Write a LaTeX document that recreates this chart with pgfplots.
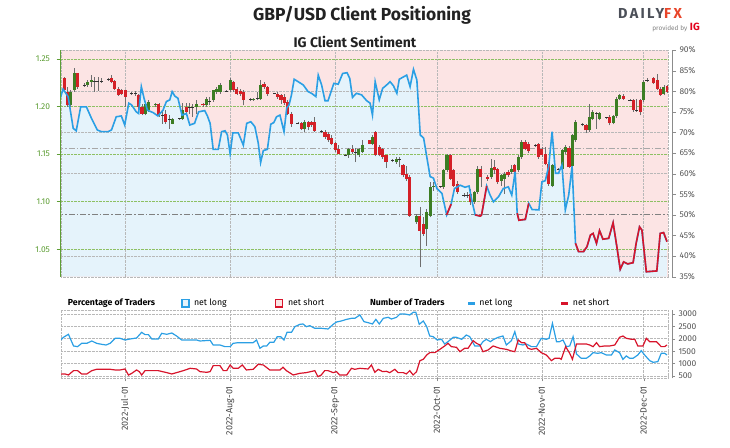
\documentclass[border=0pt]{standalone}
\usepackage{fontspec}
\setmainfont{Fira Sans}
\usepackage{pgfplots}
\usepackage{pgfplotstable}
\pgfplotsset{compat=1.18}

\definecolor{bgpink}{HTML}{FCE4E4}
\definecolor{bgblue}{HTML}{E5F3FB}
\definecolor{lineblue}{HTML}{2B9FE4}
\definecolor{linered}{HTML}{D7142B}
\definecolor{cgreen}{HTML}{3C7D23}
\definecolor{cred}{HTML}{D42027}
\definecolor{cwick}{HTML}{6E6E6E}
\definecolor{cdoji}{HTML}{333333}
\definecolor{gridgreen}{HTML}{8DC063}
\definecolor{gridgray}{HTML}{B8B8B8}
\definecolor{dashgray}{HTML}{808080}
\definecolor{dashlight}{HTML}{A8A8A8}
\definecolor{axgreen}{HTML}{5E9E35}
\definecolor{axgray}{HTML}{8C8C8C}
\definecolor{textgray}{HTML}{555555}
\definecolor{labelgray}{HTML}{444444}
\definecolor{titlegray}{HTML}{222222}
\definecolor{logogray}{HTML}{4B4F58}
\definecolor{logored}{HTML}{E8452A}
\definecolor{igred}{HTML}{E3001B}

% x = days from 2022-07-01
\pgfplotstableread{
x pct
-19.25 77.9
-18.3 80.5
-16.8 78.7
-15.3 71.0
-14.4 70.4
-13.1 76.2
-11.4 76.2
-9.9 73.4
-8.2 70.6
-7.0 70.2
-5.0 70.2
-4.0 70.6
-2.6 73.8
-1.1 74.0
-0.1 71.8
1.1 77.1
1.9 76.7
3.3 75.0
4.0 74.6
4.8 81.1
5.6 78.3
6.6 75.4
8.3 74.8
9.7 74.0
11.2 75.4
12.2 77.5
13.2 77.9
13.9 79.9
14.7 78.8
15.6 78.3
16.8 74.2
18.1 74.6
19.1 71.8
20.5 72.2
21.7 75.0
23.5 75.3
24.3 74.0
25.1 72.2
26.0 65.9
27.5 65.9
28.5 70.2
29.5 70.4
30.2 69.4
31.0 64.8
31.8 69.9
33.4 69.9
34.9 66.9
35.9 72.2
37.1 72.6
38.3 71.4
39.3 67.4
40.0 62.7
40.8 65.6
42.0 65.9
43.0 72.0
43.9 72.4
44.7 73.8
45.7 74.2
46.9 70.2
47.7 75.9
48.4 76.7
49.1 79.1
49.9 82.9
51.1 82.3
52.6 81.5
54.0 79.9
55.0 79.5
56.3 78.7
57.0 83.9
58.0 81.5
59.0 77.7
59.9 77.7
61.6 81.9
62.9 81.7
64.2 84.3
65.5 84.5
66.3 83.1
67.1 78.5
68.3 79.5
69.8 79.1
71.3 77.7
72.3 77.1
73.0 74.2
73.8 82.3
75.0 77.9
76.0 80.7
76.9 81.3
78.2 82.3
79.2 81.3
80.2 79.5
80.9 82.9
82.2 83.5
83.1 83.9
84.1 81.1
85.1 85.3
86.1 82.7
87.1 69.4
88.1 68.6
90.0 59.3
91.0 58.9
92.0 56.4
93.5 55.2
94.9 50.0
96.2 52.6
97.2 56.4
98.9 57.2
100.3 56.7
101.5 57.0
102.3 53.6
103.3 50.0
104.8 49.7
105.2 50.0
106.7 57.0
107.7 54.8
108.7 53.2
110.2 54.4
111.6 56.4
113.1 56.8
114.1 54.8
115.1 60.5
115.7 50.4
116.2 48.7
118.1 48.9
119.1 52.8
120.1 51.3
122.1 51.2
123.0 58.0
124.0 58.3
125.0 61.8
126.0 70.2
127.0 60.1
127.9 60.1
128.9 62.1
129.9 51.2
130.9 54.8
131.9 61.8
132.9 43.1
133.8 41.1
135.3 41.1
136.3 42.3
137.3 45.1
138.1 45.5
139.1 43.1
140.0 46.2
141.0 44.1
142.7 44.3
144.0 48.1
145.1 42.3
146.1 36.8
147.1 38.6
148.3 38.1
149.9 38.4
150.8 43.1
151.8 47.1
152.5 46.3
153.8 36.2
156.9 36.4
157.9 45.5
158.9 45.7
159.9 43.5
}\sentiment

% candles: x low high body-bottom body-top
\pgfplotstableread{
x lo hi bo bt
-16 1.1997 1.2173 1.2014 1.2155
-15 1.2155 1.2401 1.2173 1.2348
-11 1.2208 1.2278 1.2225 1.2260
-10 1.2208 1.2331 1.2260 1.2278
6 1.1909 1.2049 1.1926 1.2032
7 1.1944 1.2067 1.1962 1.2049
9 1.1997 1.2039 1.2014 1.2032
14 1.1814 1.1884 1.1821 1.1874
17 1.1863 1.2039 1.1874 1.1962
21 1.1926 1.2067 1.1997 1.2032
24 1.1997 1.2102 1.2014 1.2085
26 1.2049 1.2173 1.2067 1.2173
27 1.2137 1.2208 1.2155 1.2190
28 1.2137 1.2243 1.2155 1.2225
31 1.2155 1.2296 1.2173 1.2278
38 1.2060 1.2095 1.2067 1.2085
40 1.2074 1.2278 1.2085 1.2225
53 1.1733 1.1856 1.1768 1.1838
66 1.1462 1.1568 1.1487 1.1557
69 1.1469 1.1568 1.1487 1.1557
70 1.1512 1.1645 1.1522 1.1592
73 1.1592 1.1698 1.1610 1.1680
80 1.1399 1.1469 1.1417 1.1452
86 1.0766 1.0872 1.0784 1.0854
89 1.0538 1.0924 1.0713 1.0889
90 1.0836 1.1206 1.0854 1.1160
91 1.1118 1.1206 1.1153 1.1170
94 1.1135 1.1346 1.1153 1.1329
95 1.1311 1.1505 1.1329 1.1487
103 1.0977 1.1118 1.0995 1.1100
104 1.1083 1.1371 1.1100 1.1346
108 1.1241 1.1452 1.1258 1.1357
111 1.1170 1.1293 1.1223 1.1276
112 1.1083 1.1311 1.1241 1.1293
114 1.1293 1.1381 1.1311 1.1346
116 1.1311 1.1487 1.1329 1.1469
117 1.1452 1.1645 1.1469 1.1628
126 1.1153 1.1399 1.1170 1.1381
129 1.1329 1.1557 1.1346 1.1540
130 1.1505 1.1592 1.1522 1.1575
132 1.1357 1.1715 1.1371 1.1698
133 1.1628 1.1856 1.1645 1.1838
137 1.1733 1.2032 1.1751 1.1891
138 1.1856 1.1962 1.1874 1.1944
140 1.1856 1.1944 1.1874 1.1933
144 1.1814 1.1909 1.1828 1.1898
145 1.1884 1.2102 1.1898 1.2085
146 1.2067 1.2137 1.2085 1.2120
153 1.2049 1.2278 1.2067 1.2260
159 1.2120 1.2225 1.2137 1.2208
}\candlesup

\pgfplotstableread{
x lo hi bo bt
-18 1.2155 1.2313 1.2173 1.2296
-17 1.1997 1.2208 1.2014 1.2155
-14 1.2190 1.2348 1.2208 1.2348
-4 1.2243 1.2331 1.2260 1.2296
-3 1.2173 1.2278 1.2190 1.2271
-2 1.2109 1.2208 1.2120 1.2190
-1 1.2120 1.2180 1.2137 1.2173
0 1.1997 1.2173 1.2102 1.2173
4 1.1962 1.2137 1.1997 1.2120
5 1.1909 1.2032 1.1926 1.1997
10 1.1891 1.2039 1.1909 1.2032
12 1.1821 1.1962 1.1838 1.1926
18 1.1926 1.2039 1.1944 1.1997
23 1.1997 1.2039 1.2014 1.2032
32 1.2155 1.2271 1.2173 1.2260
33 1.2120 1.2208 1.2137 1.2190
34 1.2109 1.2180 1.2137 1.2166
35 1.2014 1.2173 1.2067 1.2155
41 1.2190 1.2260 1.2208 1.2236
42 1.2109 1.2215 1.2137 1.2208
45 1.2085 1.2155 1.2102 1.2137
46 1.2032 1.2137 1.2067 1.2120
47 1.2014 1.2137 1.2039 1.2102
48 1.1909 1.2067 1.1926 1.2049
49 1.1786 1.1944 1.1821 1.1926
52 1.1751 1.1838 1.1768 1.1828
54 1.1751 1.1846 1.1786 1.1838
55 1.1786 1.1846 1.1803 1.1838
56 1.1733 1.1891 1.1740 1.1838
59 1.1663 1.1751 1.1680 1.1733
60 1.1628 1.1733 1.1645 1.1708
61 1.1592 1.1698 1.1610 1.1673
62 1.1522 1.1628 1.1540 1.1617
63 1.1498 1.1592 1.1505 1.1557
67 1.1505 1.1592 1.1522 1.1557
72 1.1603 1.1652 1.1610 1.1645
74 1.1476 1.1744 1.1487 1.1733
75 1.1476 1.1592 1.1487 1.1575
76 1.1452 1.1568 1.1469 1.1557
77 1.1357 1.1487 1.1417 1.1487
82 1.1258 1.1399 1.1276 1.1381
83 1.1223 1.1371 1.1241 1.1293
84 1.0843 1.1276 1.0854 1.1265
87 1.0309 1.0942 1.0696 1.0854
88 1.0643 1.0836 1.0661 1.0766
96 1.1230 1.1505 1.1241 1.1487
97 1.1153 1.1346 1.1170 1.1329
98 1.1083 1.1223 1.1100 1.1188
102 1.0970 1.1135 1.0995 1.1083
105 1.1153 1.1371 1.1258 1.1346
107 1.1223 1.1276 1.1241 1.1258
109 1.1293 1.1434 1.1329 1.1364
110 1.1188 1.1357 1.1206 1.1346
113 1.1258 1.1329 1.1276 1.1311
115 1.1293 1.1392 1.1311 1.1381
118 1.1540 1.1652 1.1557 1.1628
119 1.1512 1.1628 1.1533 1.1610
122 1.1452 1.1617 1.1469 1.1603
123 1.1469 1.1575 1.1487 1.1557
124 1.1381 1.1575 1.1399 1.1505
125 1.1170 1.1417 1.1188 1.1399
131 1.1357 1.1582 1.1364 1.1568
136 1.1722 1.1821 1.1751 1.1803
143 1.1803 1.1909 1.1828 1.1891
147 1.2067 1.2137 1.2085 1.2109
150 1.1944 1.2085 1.1962 1.2067
152 1.1909 1.2085 1.1944 1.2067
156 1.2236 1.2313 1.2243 1.2296
157 1.2173 1.2341 1.2190 1.2278
158 1.2109 1.2208 1.2120 1.2190
160 1.2145 1.2225 1.2155 1.2215
}\candlesdown

\pgfplotstableread{
x lo hi bo bt
-12 1.2208 1.2243 1.2222 1.2228
-9 1.2155 1.2313 1.2268 1.2274
-8 1.2166 1.2313 1.2268 1.2274
-7 1.2250 1.2296 1.2268 1.2274
-5 1.2271 1.2296 1.2282 1.2288
2 1.2120 1.2155 1.2134 1.2140
3 1.2109 1.2166 1.2134 1.2140
11 1.1821 1.1962 1.1906 1.1912
13 1.1768 1.1909 1.1860 1.1866
16 1.1863 1.1884 1.1871 1.1877
19 1.1926 1.2039 1.1994 1.2000
20 1.1891 1.2032 1.1994 1.2000
25 1.2014 1.2102 1.2057 1.2063
30 1.2155 1.2173 1.2163 1.2169
37 1.2060 1.2095 1.2075 1.2081
39 1.2067 1.2155 1.2082 1.2088
44 1.2130 1.2148 1.2134 1.2140
51 1.1814 1.1838 1.1825 1.1831
58 1.1722 1.1751 1.1737 1.1743
65 1.1476 1.1498 1.1484 1.1490
68 1.1417 1.1568 1.1519 1.1525
79 1.1417 1.1448 1.1431 1.1437
81 1.1364 1.1469 1.1438 1.1444
93 1.1146 1.1170 1.1157 1.1163
100 1.1054 1.1090 1.1069 1.1075
101 1.1040 1.1100 1.1062 1.1068
121 1.1575 1.1610 1.1589 1.1595
128 1.1329 1.1357 1.1343 1.1349
135 1.1793 1.1828 1.1811 1.1817
139 1.1768 1.1944 1.1923 1.1929
142 1.1874 1.1891 1.1881 1.1887
149 1.2057 1.2078 1.2064 1.2070
151 1.1944 1.2085 1.1959 1.1965
154 1.2260 1.2296 1.2275 1.2281
}\candlesdoji

\pgfplotstableread{
x n
-19.2 1925
-18.2 2059
-16.7 2180
-15.2 1710
-14.0 1683
-12.8 1817
-11.3 1817
-9.8 1911
-8.4 1817
-6.9 1777
-5.6 1750
-4.4 1817
-2.9 2019
-1.5 2019
0 1952
1.5 1992
3.4 2032
4.9 2261
5.9 2167
6.9 2167
7.9 1992
9.8 1992
10.8 2220
12.3 2180
13.8 2234
15.2 2113
16.7 1952
19.2 1952
21.1 1952
22.1 1911
25.1 1938
26.0 1750
28.0 1750
29.5 1683
31.0 1683
31.9 1817
33.4 1844
35.4 1844
37.8 1844
38.8 1952
39.8 1616
40.8 1710
41.8 1710
42.7 1858
43.9 1858
44.9 2086
45.9 2086
46.9 1952
47.8 2261
49.1 2261
50.1 2489
51.6 2583
52.5 2597
53.5 2489
54.5 2530
56.0 2422
58.0 2422
59.9 2395
61.4 2583
62.4 2677
63.8 2718
65.4 2785
66.8 2825
67.8 2825
69.3 2960
70.5 2691
71.7 2651
73.0 2597
74.0 2785
75.0 2597
76.2 2825
77.6 2866
78.6 2798
80.1 2866
81.1 3000
82.5 3000
84.0 2960
85.0 3067
85.8 3067
86.8 2583
88.0 2718
89.0 2489
89.9 2113
90.9 2086
92.1 1952
93.4 1979
94.3 1790
95.3 1884
96.8 2059
97.8 2059
99.3 1979
100.7 2153
101.7 2086
103.2 1710
104.7 1710
105.6 1884
106.6 1979
107.8 1884
108.8 1979
110.1 2059
111.5 2113
112.5 1750
114.0 1925
115.0 2288
116.0 1790
117.4 1750
118.4 1790
119.9 1683
121.4 1683
122.8 2019
124.3 1979
125.1 2019
126.1 2624
127.3 1884
128.2 1884
129.2 1952
130.2 1683
131.2 1710
132.2 2086
133.2 1387
134.6 1213
136.1 1213
137.1 1307
138.1 1441
139.5 1414
140.5 1441
142.0 1347
143.5 1347
144.5 1548
145.9 1441
146.9 1172
147.9 1307
148.9 1213
149.9 1213
151.3 1347
152.3 1522
153.3 1347
154.8 1118
155.8 1051
157.2 1078
158.2 1414
159.2 1414
159.9 1347
}\longcount

\pgfplotstableread{
x n
-19.2 581
-17.7 581
-16.7 540
-15.2 715
-14.0 715
-12.8 581
-11.3 581
-9.8 715
-8.4 769
-6.9 769
-4.4 769
-2.9 742
-1.5 742
0 782
1.0 540
2.0 608
3.4 742
4.2 675
4.9 540
5.9 715
7.3 715
9.8 715
12.3 635
13.8 581
15.2 635
17.2 715
19.2 809
21.1 782
22.1 675
24.1 648
25.1 675
26.0 917
28.0 917
29.0 715
30.0 715
31.0 944
31.9 809
33.4 809
34.6 944
35.8 742
37.8 769
39.3 971
40.8 944
42.7 742
45.7 742
46.6 850
47.6 715
49.6 540
51.6 608
53.5 635
56.0 715
56.9 473
57.9 540
58.9 715
59.9 715
61.4 635
62.4 675
63.3 540
65.4 540
66.8 809
67.8 769
69.3 809
71.7 782
72.7 944
73.7 648
74.7 769
76.0 675
77.1 688
78.1 635
79.6 769
80.6 635
82.1 635
83.0 581
84.0 715
85.0 540
86.0 675
87.0 1118
88.0 1172
89.0 1347
89.9 1441
91.4 1441
92.9 1575
94.3 1710
95.3 1817
96.3 1683
97.8 1656
98.8 1481
100.2 1616
101.2 1616
102.7 1925
103.7 1817
104.7 1750
105.6 1481
107.1 1548
108.6 1710
110.6 1616
112.5 1575
114.0 1508
115.0 1481
116.0 1952
117.0 1844
117.9 1844
118.9 1616
119.9 1575
121.4 1616
122.8 1441
124.3 1347
125.8 1118
126.8 1213
128.2 1213
128.7 1172
130.0 1683
131.2 1414
132.0 1172
133.2 1790
134.6 1790
136.1 1790
137.1 1750
138.1 1683
139.1 1844
140.0 1683
141.5 1710
143.0 1710
144.5 1750
145.9 2059
146.9 2113
147.9 2019
149.4 1979
150.4 1979
151.3 1710
152.8 1710
153.8 2019
154.8 1884
156.8 1884
158.2 1683
159.2 1683
159.9 1750
}\shortcount

\pgfplotsset{
  panel/.style={scale only axis, width=607bp, xmin=-18.9, xmax=160.2,
    anchor=north west, tick align=outside, major tick length=4bp,
    tick label style={font=\fontsize{8.5}{9}\selectfont},
    /pgf/number format/assume math mode=true},
  wicks/.style={draw=none, mark=none, forget plot,
    error bars/.cd, y dir=plus, y explicit, error mark=none,
    error bar style={draw=cwick, solid, line width=0.8bp}},
  bodies/.style={draw=none, mark=none, forget plot,
    error bars/.cd, y dir=plus, y explicit, error mark=none,
    error bar style={draw=#1, solid, line width=3.1bp}},
}

\begin{document}
\begin{tikzpicture}
\path[use as bounding box] (0,0) rectangle (730bp,-448bp);

\node[anchor=base, inner sep=0pt, text=titlegray, font=\fontsize{17.5}{20}\selectfont\bfseries] at (362bp,-20.7bp) {GBP/USD Client Positioning};
\node[anchor=base, inner sep=0pt, text=titlegray, font=\fontsize{14}{16}\selectfont\bfseries] at (355bp,-47bp) {IG Client Sentiment};
\node[anchor=base west, inner sep=0pt, font=\fontsize{14.5}{16}\selectfont\bfseries\addfontfeature{LetterSpace=16}] at (618bp,-18bp) {\textcolor{logogray}{DAILY}\textcolor{logored}{FX}};
\node[anchor=base east, inner sep=0pt, text=gray, font=\fontsize{6.5}{8}\selectfont] at (687.5bp,-30bp) {provided by};
\node[anchor=base east, inner sep=0pt, text=igred, font=\fontsize{10.5}{12}\selectfont\bfseries] at (700bp,-30.5bp) {IG};

% background: percent scale, fill below the sentiment line
\begin{axis}[panel, at={(61bp,-50bp)}, height=226.7bp, ymin=35, ymax=90,
  axis background/.style={fill=bgpink}, axis on top,
  axis line style={gridgray, densely dotted},
  xtick={0,31,62,92,123,153}, ytick={40,60,70,80},
  xticklabels={}, yticklabels={}, major tick length=0pt,
  xmajorgrids, ymajorgrids, grid style={gridgray, densely dotted, line width=0.6bp}]
\addplot[fill=bgblue, draw=none] table[x=x, y=pct] {\sentiment} \closedcycle;
\addplot[dashgray, line width=1.1bp, dash pattern=on 6bp off 2bp on 1.5bp off 2bp] coordinates {(-20,50) (161,50)};
\addplot[dashlight, line width=1.1bp, dash pattern=on 6bp off 2bp on 1.5bp off 2bp] coordinates {(-20,66) (161,66)};
\end{axis}

% price candles
\begin{axis}[panel, at={(61bp,-50bp)}, height=226.7bp, ymin=1.0212, ymax=1.2595,
  axis line style={draw=none}, xtick=\empty,
  ytick={1.05,1.1,1.15,1.2,1.25}, ytick pos=left, major tick length=4.5bp,
  ytick style={axgreen, line width=0.8bp}, yticklabel shift=3bp,
  yticklabel style={text=axgreen, /pgf/number format/.cd, fixed, fixed zerofill, precision=2},
  ymajorgrids, grid style={gridgreen, densely dotted, line width=0.6bp},
  extra description/.code={\draw[axgreen, line width=1bp] ([xshift=-1bp]rel axis cs:0,0) -- ([xshift=-1bp]rel axis cs:0,1);}]
\addplot[wicks] table[x=x, y=lo, y error expr=\thisrow{hi}-\thisrow{lo}] {\candlesup};
\addplot[wicks] table[x=x, y=lo, y error expr=\thisrow{hi}-\thisrow{lo}] {\candlesdown};
\addplot[wicks] table[x=x, y=lo, y error expr=\thisrow{hi}-\thisrow{lo}] {\candlesdoji};
\addplot[bodies=cgreen] table[x=x, y=bo, y error expr=\thisrow{bt}-\thisrow{bo}] {\candlesup};
\addplot[bodies=cred] table[x=x, y=bo, y error expr=\thisrow{bt}-\thisrow{bo}] {\candlesdown};
\addplot[bodies=cdoji] table[x=x, y=bo, y error expr=\thisrow{bt}-\thisrow{bo}] {\candlesdoji};
\end{axis}

% sentiment line, right percent axis
\begin{axis}[panel, at={(61bp,-50bp)}, height=226.7bp, ymin=35, ymax=90,
  axis line style={draw=none}, xtick=\empty,
  ytick={35,40,...,90}, ytick pos=right,
  ytick style={axgray, xshift=4bp}, yticklabel shift=4bp,
  yticklabel={\pgfmathprintnumber{\tick}\%}, yticklabel style={text=textgray},
  extra description/.code={\draw[axgray, line width=0.8bp] ([xshift=4bp]rel axis cs:1,0) -- ([xshift=4bp]rel axis cs:1,1);}]
\addplot[lineblue, line width=1.6bp] table[x=x, y=pct] {\sentiment};
\addplot[linered, line width=1.6bp] coordinates {(94.9,50.0) (96.2,52.6)};
\addplot[linered, line width=1.6bp] coordinates {(103.3,50.0) (104.8,49.7) (105.2,50.0) (106.7,57.0)};
\addplot[linered, line width=1.6bp] coordinates {(115.7,50.4) (116.2,48.7) (118.1,48.9) (119.1,52.8)};
\addplot[linered, line width=1.6bp] coordinates {(132.9,43.1) (133.8,41.1) (135.3,41.1) (136.3,42.3)
  (137.3,45.1) (138.1,45.5) (139.1,43.1) (140.0,46.2) (141.0,44.1) (142.7,44.3) (144.0,48.1)
  (145.1,42.3) (146.1,36.8) (147.1,38.6) (148.3,38.1) (149.9,38.4) (150.8,43.1) (151.8,47.1)
  (152.5,46.3) (153.8,36.2) (156.9,36.4) (157.9,45.5) (158.9,45.7) (159.9,43.5)};
\end{axis}

% number of traders
\begin{axis}[panel, at={(61bp,-310bp)}, height=68.3bp, ymin=406, ymax=3161,
  axis line style={gridgray, densely dotted},
  xtick={0,31,62,92,123,153},
  xticklabels={2022-Jul-01,2022-Aug-01,2022-Sep-01,2022-Oct-01,2022-Nov-01,2022-Dec-01},
  xtick pos=left, xtick style={axgray}, major tick length=3bp,
  xticklabel style={rotate=90, anchor=east, text=labelgray, font=\fontsize{9}{10}\selectfont},
  xticklabel shift=1.5bp,
  ytick={500,1000,...,3000}, ytick pos=right,
  ytick style={axgray, xshift=4bp}, yticklabel shift=4bp,
  yticklabel style={text=textgray, /pgf/number format/1000 sep={}},
  xmajorgrids, ymajorgrids, grid style={gridgray, densely dotted, line width=0.6bp},
  extra description/.code={\draw[axgray, line width=0.8bp] ([xshift=4bp]rel axis cs:1,0) -- ([xshift=4bp]rel axis cs:1,1);},
  legend columns=6,
  legend style={at={(0.0115,1.097)}, anchor=west, draw=none, fill=none,
    inner sep=0pt, outer sep=0pt, column sep=0pt,
    font=\fontsize{8.8}{10}\selectfont, nodes={inner sep=0pt}}]
\addplot[lineblue, line width=1.2bp, forget plot] table[x=x, y=n] {\longcount};
\addplot[linered, line width=1.2bp, forget plot] table[x=x, y=n] {\shortcount};
\addlegendimage{empty legend}
\addlegendentry{\makebox[113.5bp][l]{\bfseries Percentage of Traders}}
\addlegendimage{legend image code/.code={\draw[draw=lineblue, fill=bgblue, line width=1.3bp] (0.6bp,-3.6bp) rectangle (7.4bp,3.6bp); \path[draw=none, fill=none] (0bp,0bp) -- (12.5bp,0bp);}}
\addlegendentry{\makebox[81bp][l]{net long}}
\addlegendimage{legend image code/.code={\draw[draw=linered, fill=bgpink, line width=1.3bp] (0.6bp,-3.6bp) rectangle (7.4bp,3.6bp); \path[draw=none, fill=none] (0bp,0bp) -- (13bp,0bp);}}
\addlegendentry{\makebox[82bp][l]{net short}}
\addlegendimage{empty legend}
\addlegendentry{\makebox[98bp][l]{\bfseries Number of Traders}}
\addlegendimage{legend image code/.code={\fill[lineblue] (0bp,-0.75bp) rectangle (7bp,0.75bp); \fill[white, fill opacity=0] (7bp,-0.75bp) rectangle (11bp,0.75bp);}}
\addlegendentry{\makebox[81.6bp][l]{net long}}
\addlegendimage{legend image code/.code={\fill[linered] (0bp,-0.75bp) rectangle (7bp,0.75bp); \fill[white, fill opacity=0] (7bp,-0.75bp) rectangle (11.4bp,0.75bp);}}
\addlegendentry{net short}
\end{axis}
\end{tikzpicture}
\end{document}
